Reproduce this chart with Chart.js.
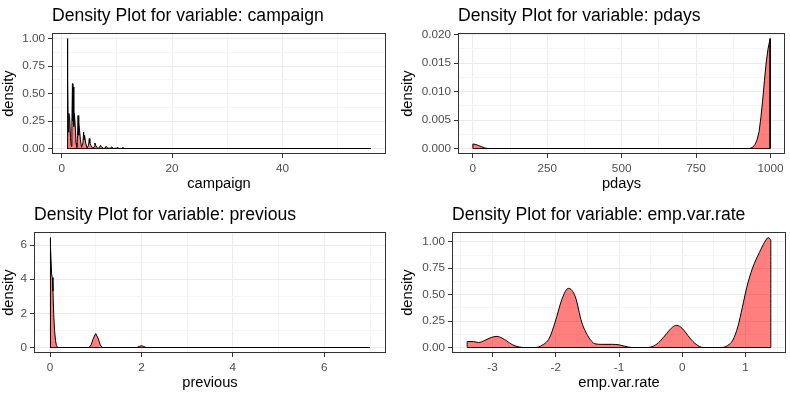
<!DOCTYPE html>
<html lang="en">
<head>
<meta charset="UTF-8" />
<title>Density plots</title>
<script src="https://cdn.jsdelivr.net/npm/chart.js"></script>
<style>
  html, body { margin: 0; padding: 0; background: #fff; }
  #wrap { position: relative; width: 790px; height: 395px; }
  canvas { position: absolute; }
</style>
</head>
<body>
<div id="wrap">
  <canvas id="c1" width="395" height="196" style="left:0;top:0"></canvas>
  <canvas id="c2" width="395" height="196" style="left:395px;top:0"></canvas>
  <canvas id="c3" width="395" height="196" style="left:0;top:199px"></canvas>
  <canvas id="c4" width="395" height="196" style="left:395px;top:199px"></canvas>
</div>
<script>
// campaign
const campaignX = [1.00, 1.02, 1.08, 1.14, 1.2, 1.3, 1.45, 1.6, 1.75,
  1.85, 1.95, 2.03, 2.12, 2.2, 2.3, 2.45, 2.6, 2.75,
  2.88, 2.97, 3.05, 3.13, 3.25, 3.4, 3.6,
  3.85, 3.98, 4.06, 4.14, 4.35, 4.6,
  4.88, 5.0, 5.1, 5.3, 5.6,
  5.88, 6.02, 6.2, 6.55,
  6.88, 7.03, 7.25, 7.6,
  7.9, 8.04, 8.35, 8.9, 9.04, 9.35, 9.9, 10.05, 10.4, 10.9, 11.05, 11.4, 56];
const campaignY = [0, 1.00, 0.25, 0.63, 0.15, 0.32, 0.28, 0.10, 0.02,
  0.20, 0.59, 0.25, 0.56, 0.20, 0.32, 0.22, 0.05, 0.01,
  0.12, 0.30, 0.12, 0.24, 0.16, 0.08, 0.01,
  0.05, 0.15, 0.08, 0.12, 0.05, 0.005,
  0.03, 0.09, 0.05, 0.03, 0.002,
  0.015, 0.05, 0.025, 0.001,
  0.01, 0.03, 0.012, 0.001,
  0.005, 0.02, 0.002, 0.003, 0.015, 0.001, 0.002, 0.01, 0, 0.001, 0.01, 0, 0];
const campaignXTicks = [0, 20, 40];
const campaignXMinor = [10, 30, 50];
const campaignYTicks = [0, 0.25, 0.5, 0.75, 1];
const campaignYMinor = [0.125, 0.375, 0.625, 0.875];
const campaignYLabels = ['0.00', '0.25', '0.50', '0.75', '1.00'];

// pdays
const pdaysX = [0, 0, 10, 20, 30, 40, 50, 930, 940, 948, 955, 962, 968, 974, 980, 986, 992, 999, 999];
const pdaysY = [0, 0.0008, 0.0007, 0.0005, 0.0003, 0.0001, 0, 0, 0.0002, 0.0007, 0.0015, 0.003, 0.0055, 0.0085, 0.012, 0.0152, 0.0175, 0.0193, 0];
const pdaysXTicks = [0, 250, 500, 750, 1000];
const pdaysXMinor = [125, 375, 625, 875];
const pdaysYTicks = [0, 0.005, 0.01, 0.015, 0.02];
const pdaysYMinor = [0.0025, 0.0075, 0.0125, 0.0175];
const pdaysYLabels = ['0.000', '0.005', '0.010', '0.015', '0.020'];

// previous
const previousX = [0, 0, 0.01, 0.02, 0.035, 0.05, 0.065, 0.08, 0.1, 0.12, 0.14, 0.16, 0.18,
  0.85, 0.9, 0.95, 1.0, 1.05, 1.1, 1.15, 1.9, 1.95, 2.0, 2.05, 2.1, 7];
const previousY = [0, 6.44, 6.3, 5.95, 4.3, 4.1, 3.3, 2.0, 1.0, 0.42, 0.12, 0.02, 0,
  0, 0.15, 0.55, 0.82, 0.55, 0.15, 0, 0, 0.06, 0.11, 0.06, 0, 0];
const previousXTicks = [0, 2, 4, 6];
const previousXMinor = [1, 3, 5, 7];
const previousYTicks = [0, 2, 4, 6];
const previousYMinor = [1, 3, 5];
const previousYLabels = ['0', '2', '4', '6'];

// emp.var.rate
const empX = [-3.4, -3.4, -3.3, -3.22, -3.12, -3.02, -2.93, -2.85, -2.77, -2.68, -2.58, -2.5,
  -2.32, -2.22, -2.1, -2.01, -1.9, -1.8, -1.69, -1.59, -1.48, -1.38, -1.27, -1.1, -1.0, -0.91, -0.8,
  -0.55, -0.45, -0.35, -0.25, -0.15, -0.09, 0.0, 0.12, 0.22, 0.33,
  0.62, 0.72, 0.8, 0.88, 0.95, 1.02, 1.11, 1.22, 1.3, 1.36, 1.4, 1.4];
const empY = [0, 0.056, 0.056, 0.047, 0.068, 0.095, 0.105, 0.09, 0.06, 0.025, 0.005, 0,
  0, 0.02, 0.09, 0.24, 0.46, 0.56, 0.48, 0.24, 0.098, 0.035, 0.03, 0.03, 0.025, 0.012, 0,
  0, 0.015, 0.06, 0.13, 0.195, 0.21, 0.18, 0.09, 0.03, 0,
  0, 0.02, 0.07, 0.2, 0.38, 0.57, 0.75, 0.9, 0.995, 1.04, 1.02, 0];
const empXTicks = [-3, -2, -1, 0, 1];
const empXMinor = [-3.5, -2.5, -1.5, -0.5, 0.5, 1.5];
const empYTicks = [0, 0.25, 0.5, 0.75, 1];
const empYMinor = [0.125, 0.375, 0.625, 0.875];
const empYLabels = ['0.00', '0.25', '0.50', '0.75', '1.00'];

const FONT = "'Liberation Sans', Arial, sans-serif";

// ggplot-style 5% expansion of a range
function expand(vals) {
  const lo = Math.min(...vals), hi = Math.max(...vals);
  const d = (hi - lo) * 0.05;
  return [lo - d, hi + d];
}

function isMajor(list, v) {
  return list.some(t => Math.abs(t - v) < 1e-9);
}

const panelBorder = {
  id: 'panelBorder',
  afterDraw(chart) {
    const a = chart.chartArea, ctx = chart.ctx;
    ctx.save();
    ctx.strokeStyle = '#333333';
    ctx.lineWidth = 1;
    ctx.strokeRect(Math.round(a.left) + 0.5, Math.round(a.top) + 0.5,
      Math.round(a.right - a.left) - 1, Math.round(a.bottom - a.top) - 1);
    ctx.restore();
  }
};

function axis(major, minor, labels, title, fit, titlePad, tickPad) {
  return {
    type: 'linear',
    afterBuildTicks: s => {
      s.ticks = major.concat(minor).sort((a, b) => a - b).map(v => ({ value: v }));
    },
    afterFit: fit,
    border: { display: false },
    grid: {
      color: c => (c.tick && isMajor(major, c.tick.value)) ? '#EBEBEB' : '#F5F5F5',
      tickColor: c => (c.tick && isMajor(major, c.tick.value)) ? '#333333' : 'rgba(0,0,0,0)',
      tickLength: 4,
      lineWidth: 1
    },
    ticks: {
      autoSkip: false,
      maxRotation: 0,
      padding: tickPad,
      color: '#4D4D4D',
      font: { family: FONT, size: 11.73 },
      callback: v => {
        const i = major.findIndex(t => Math.abs(t - v) < 1e-9);
        return i < 0 ? '' : labels[i];
      }
    },
    title: {
      display: true,
      text: title,
      color: '#000',
      font: { family: FONT, size: 14.67 },
      padding: titlePad
    }
  };
}

function makePanel(id, p) {
  const pts = p.xs.map((x, i) => ({ x: x, y: p.ys[i] }));
  const xl = expand(p.xs), yl = expand([0].concat(p.ys));
  const xMin = Math.min(...p.xs), xMax = Math.max(...p.xs);
  const xAxis = axis(p.xTicks, p.xMinor, p.xLabels, p.xTitle, s => { s.height = 42; }, { top: 0, bottom: 3 }, 4);
  xAxis.min = xl[0]; xAxis.max = xl[1];
  const yAxis = axis(p.yTicks, p.yMinor, p.yLabels, 'density', s => { s.width = p.left; }, { top: p.yTitlePad, bottom: 0 }, 3);
  yAxis.min = yl[0]; yAxis.max = yl[1];

  new Chart(document.getElementById(id), {
    type: 'line',
    data: {
      datasets: [{
        data: pts,
        borderColor: '#000000',
        borderWidth: 1,
        backgroundColor: 'rgba(255,0,0,0.5)',
        fill: 'origin',
        pointRadius: 0,
        tension: p.smooth ? 0.4 : 0,
        cubicInterpolationMode: p.smooth ? 'monotone' : 'default'
      }, {
        data: [{ x: xMin, y: 0 }, { x: xMax, y: 0 }],
        borderColor: '#000000',
        borderWidth: 1,
        pointRadius: 0,
        fill: false
      }]
    },
    options: {
      responsive: false,
      animation: false,
      devicePixelRatio: 1,
      layout: { padding: { left: 0, right: p.right, top: 0, bottom: 0 } },
      plugins: {
        legend: { display: false },
        tooltip: { enabled: false },
        title: {
          display: true,
          text: p.title,
          align: 'start',
          fullSize: false,
          color: '#000',
          font: { family: FONT, size: 17.6, weight: 'normal' },
          padding: { top: 6, bottom: 6 }
        }
      },
      scales: { x: xAxis, y: yAxis }
    },
    plugins: [panelBorder]
  });
}

makePanel('c1', {
  title: 'Density Plot for variable: campaign', xTitle: 'campaign',
  xs: campaignX, ys: campaignY, smooth: false,
  xTicks: campaignXTicks, xMinor: campaignXMinor, xLabels: campaignXTicks.map(String),
  yTicks: campaignYTicks, yMinor: campaignYMinor, yLabels: campaignYLabels,
  left: 52, right: 9, yTitlePad: 0
});
makePanel('c2', {
  title: 'Density Plot for variable: pdays', xTitle: 'pdays',
  xs: pdaysX, ys: pdaysY, smooth: false,
  xTicks: pdaysXTicks, xMinor: pdaysXMinor, xLabels: pdaysXTicks.map(String),
  yTicks: pdaysYTicks, yMinor: pdaysYMinor, yLabels: pdaysYLabels,
  left: 63, right: 5, yTitlePad: 4.5
});
makePanel('c3', {
  title: 'Density Plot for variable: previous', xTitle: 'previous',
  xs: previousX, ys: previousY, smooth: false,
  xTicks: previousXTicks, xMinor: previousXMinor, xLabels: previousXTicks.map(String),
  yTicks: previousYTicks, yMinor: previousYMinor, yLabels: previousYLabels,
  left: 34, right: 9, yTitlePad: 0
});
makePanel('c4', {
  title: 'Density Plot for variable: emp.var.rate', xTitle: 'emp.var.rate',
  xs: empX, ys: empY, smooth: true,
  xTicks: empXTicks, xMinor: empXMinor, xLabels: empXTicks.map(String),
  yTicks: empYTicks, yMinor: empYMinor, yLabels: empYLabels,
  left: 57, right: 4, yTitlePad: 4.5
});
</script>
</body>
</html>
